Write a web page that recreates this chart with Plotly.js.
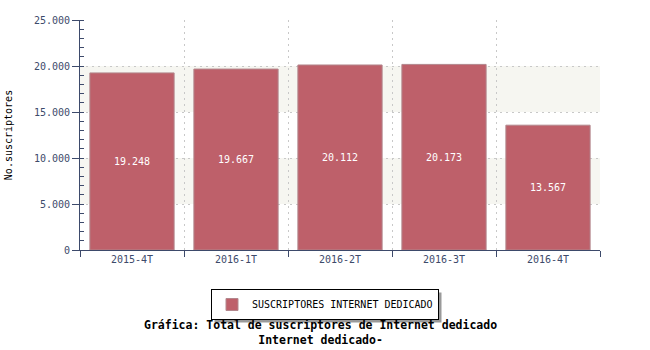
<!DOCTYPE html>
<html>
<head>
<meta charset="utf-8">
<script src="https://cdn.plot.ly/plotly-3.0.1.min.js"></script>
<style>html,body{margin:0;padding:0;background:#fff;}#chart{width:650px;height:350px;}</style>
</head>
<body>
<div id="chart"></div>
<script>
const categories = ["2015-4T", "2016-1T", "2016-2T", "2016-3T", "2016-4T"];
const subscribers = [19248, 19667, 20112, 20173, 13567];
const seriesName = "SUSCRIPTORES INTERNET DEDICADO";
const yTitle = "No.suscriptores";
const chartTitle = "Gráfica: Total de suscriptores de Internet dedicado";
const chartSubtitle = "Internet dedicado-";
const bands = [[5000, 10000], [15000, 20000]];

const axisColor = "#3d4a6b";
const mono = "DejaVu Sans Mono, monospace";

// pixel helpers for the paper coordinates of the plot area (80..600 x 20..250)
const px = x => (x - 80) / 520;
const py = y => (250 - y) / 230;

const trace = {
  type: "bar",
  x: categories,
  y: subscribers,
  name: seriesName,
  marker: { color: "#be606a", line: { color: "#b3878d", width: 1 } },
  texttemplate: "%{y:,.0f}",
  textposition: "inside",
  insidetextanchor: "middle",
  textfont: { color: "#ffffff", size: 10, family: mono },
  hoverinfo: "skip",
  showlegend: true
};

const shapes = bands.map(b => ({
  type: "rect", xref: "paper", yref: "y", x0: 0, x1: 1, y0: b[0], y1: b[1],
  fillcolor: "#f6f6f1", line: { width: 0 }, layer: "below"
}));

const layout = {
  width: 650, height: 350,
  margin: { l: 80, r: 50, t: 20, b: 100 },
  paper_bgcolor: "#ffffff",
  plot_bgcolor: "rgba(0,0,0,0)",
  separators: ",.",
  bargap: 0.19,
  font: { family: mono, size: 10, color: axisColor },
  xaxis: {
    type: "category",
    range: [-0.5, 4.5],
    tickson: "boundaries",
    ticks: "outside", ticklen: 6, tickcolor: axisColor, tickwidth: 1,
    showline: true, linecolor: axisColor, linewidth: 1,
    showgrid: true, gridcolor: "#c8c8c8", griddash: "2px,4px", gridwidth: 1,
    tickfont: { family: mono, size: 10, color: axisColor },
    fixedrange: true
  },
  yaxis: {
    range: [0, 25000],
    dtick: 5000, tick0: 0,
    tickformat: ",d",
    ticks: "outside", ticklen: 7, tickcolor: axisColor,
    showline: true, linecolor: axisColor, linewidth: 1,
    showgrid: true, gridcolor: "#c8c8c8", griddash: "2px,4px", gridwidth: 1,
    zeroline: false,
    minor: { dtick: 1000, ticks: "inside", ticklen: 4, tickcolor: axisColor, showgrid: false },
    tickfont: { family: mono, size: 10, color: axisColor },
    title: { text: yTitle, font: { family: mono, size: 10, color: "#000000" }, standoff: 19 },
    fixedrange: true
  },
  shapes: shapes,
  showlegend: true,
  legend: {
    orientation: "h",
    x: px(325), xanchor: "center",
    y: py(289), yanchor: "top",
    bgcolor: "#ffffff", bordercolor: "#000000", borderwidth: 1,
    font: { family: mono, size: 10, color: "#000000" }
  },
  annotations: [
    { text: "<b>" + chartTitle + "</b><br><b>" + chartSubtitle + "</b>", xref: "paper", yref: "paper",
      x: px(320), y: py(332), xanchor: "center", yanchor: "middle", align: "center",
      showarrow: false, font: { family: mono, size: 11.5, color: "#000000" } }
  ]
};

const gd = document.getElementById("chart");
Plotly.newPlot(gd, [trace], layout, { displayModeBar: false, staticPlot: true }).then(() => {
  // add a drop shadow behind the legend box, offset by 3px
  const bg = gd.querySelector(".legend .bg");
  if (!bg) return;
  const r = bg.getBoundingClientRect();
  const g = gd.getBoundingClientRect();
  const L = r.left - g.left, T = r.top - g.top;
  const shadow = {
    type: "rect", xref: "paper", yref: "paper",
    x0: px(L + 3), x1: px(L + r.width + 3), y0: py(T + r.height + 3), y1: py(T + 3),
    fillcolor: "#9a9a9a", line: { width: 0 }, layer: "above"
  };
  return Plotly.relayout(gd, { shapes: shapes.concat([shadow]) });
});
</script>
</body>
</html>
